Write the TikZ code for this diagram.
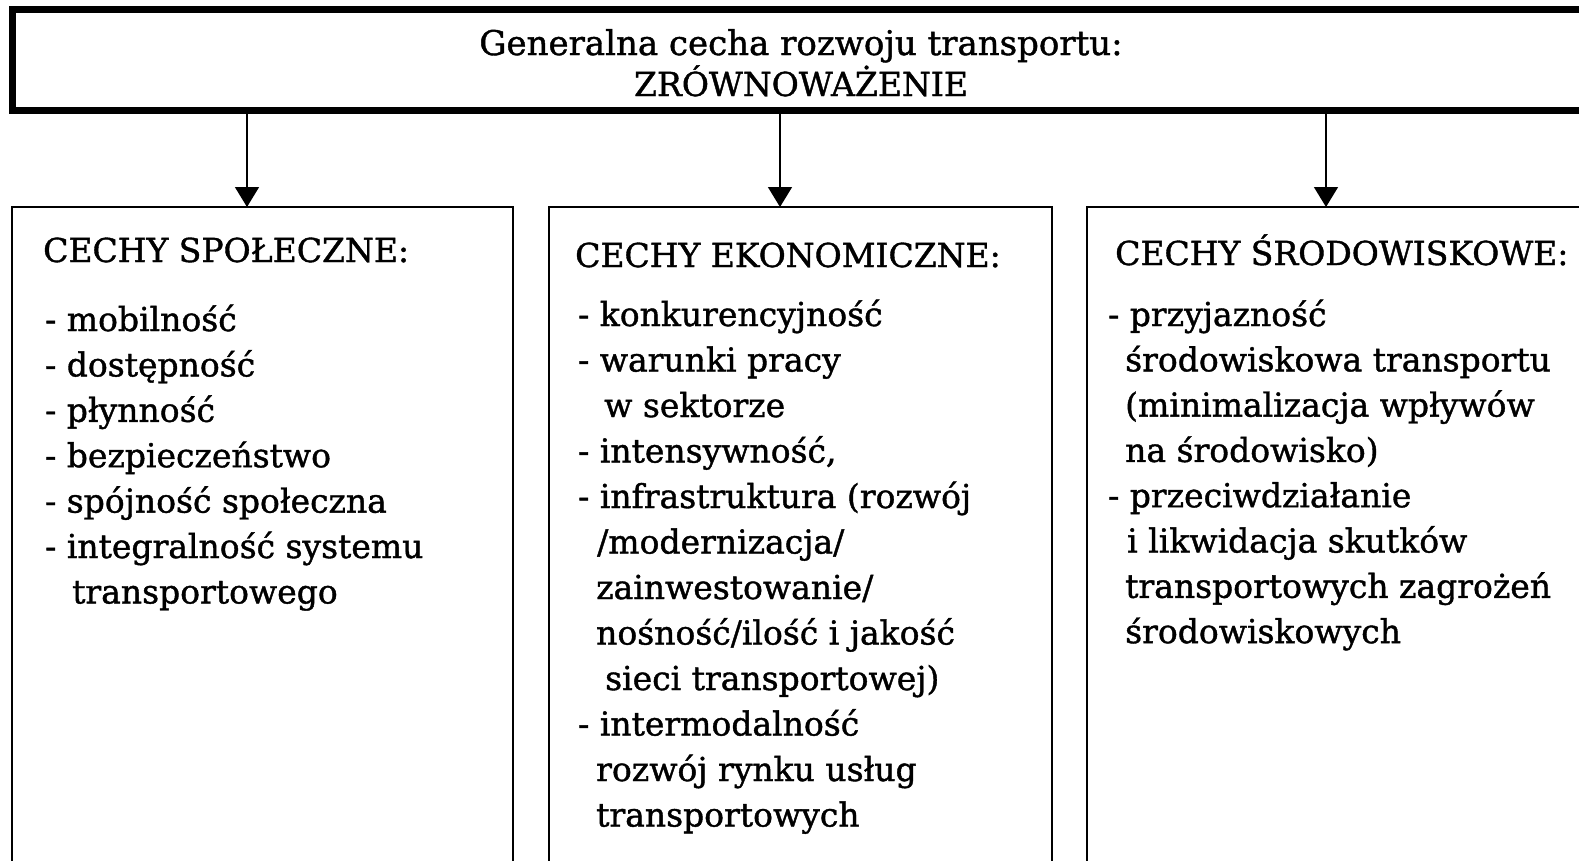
\documentclass[tikz,border=0pt]{standalone}
\usepackage{fontspec}
\setmainfont{DejaVu Serif}
\newfontfamily\diagfont[FakeBold=1.2]{DejaVu Serif}
\usetikzlibrary{arrows.meta}
\tikzset{
  goalbox/.style={draw, line width=7pt, inner sep=0pt, outer sep=0pt, anchor=north west},
  featbox/.style={draw, line width=1.5pt, inner sep=0pt, outer sep=0pt, anchor=north west},
  arr/.style={line width=1.5pt, -{Triangle[width=24pt,length=20pt]}},
  txt/.style={anchor=base west, inner sep=0pt, font=\diagfont\fontsize{33}{40}\selectfont},
}

\begin{document}
\begin{tikzpicture}[x=1pt, y=-1pt]
\useasboundingbox (0,0) rectangle (1579,860);

% main box
\node[goalbox, minimum width=1640pt, minimum height=101pt] (goal) at (12,9) {};
\node[txt, anchor=base, font=\diagfont\fontsize{34}{40}\selectfont] (title1) at (801,55) {Generalna cecha rozwoju transportu:};
\node[txt, anchor=base] (title2) at (801,96) {ZRÓWNOWAŻENIE};

% three groups
\node[featbox, minimum width=501pt, minimum height=700pt] (soc) at (12,207) {};
\node[featbox, minimum width=503pt, minimum height=700pt] (eco) at (549,207) {};
\node[featbox, minimum width=600pt, minimum height=700pt] (env) at (1087,207) {};

\coordinate (a1) at (247,0);
\coordinate (a2) at (780,0);
\coordinate (a3) at (1326,0);
\draw[arr] (goal.south -| a1) -- (soc.north -| a1);
\draw[arr] (goal.south -| a2) -- (eco.north -| a2);
\draw[arr] (goal.south -| a3) -- (env.north -| a3);

\node[txt] (socHead) at (43,262) {CECHY SPOŁECZNE:};
\node[txt] (ecoHead) at (575,267) {CECHY EKONOMICZNE:};
\node[txt] (envHead) at (1115,265) {CECHY ŚRODOWISKOWE:};

\foreach \x/\t [count=\i] in {45/{- mobilność}, 45/{- dostępność}, 45/{- płynność},
    45/{- bezpieczeństwo}, 45/{- spójność społeczna}, 45/{- integralność systemu},
    72/{transportowego}} {
  \node[txt] (soc-\i) at (\x,331+45.4*\i-45.4) {\t};
}

\foreach \x/\t [count=\i] in {578/{- konkurencyjność}, 578/{- warunki pracy},
    604/{w sektorze}, 578/{- intensywność,}, 578/{- infrastruktura (rozwój},
    597/{/modernizacja/}, 596/{zainwestowanie/}, 596/{nośność/ilość i jakość},
    605/{sieci transportowej)}, 578/{- intermodalność}, 596/{rozwój rynku usług},
    596/{transportowych}} {
  \node[txt] (eco-\i) at (\x,326+45.5*\i-45.5) {\t};
}

\foreach \x/\t [count=\i] in {1108/{- przyjazność}, 1125/{środowiskowa transportu},
    1125/{(minimalizacja wpływów}, 1125/{na środowisko)}, 1108/{- przeciwdziałanie},
    1127/{i likwidacja skutków}, 1125/{transportowych zagrożeń},
    1125/{środowiskowych}} {
  \node[txt] (env-\i) at (\x,326+45.3*\i-45.3) {\t};
}
\end{tikzpicture}
\end{document}
